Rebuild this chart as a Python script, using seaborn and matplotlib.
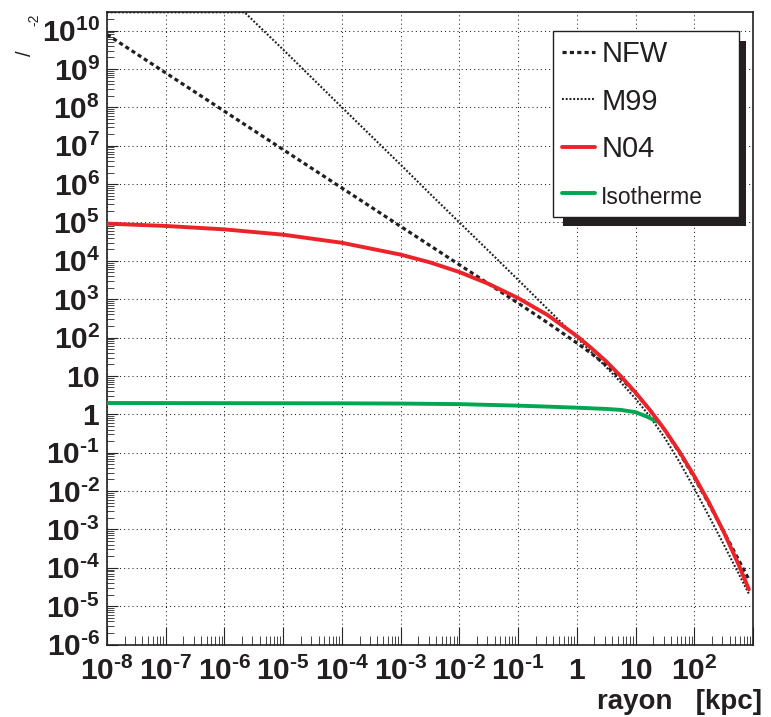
import numpy as np
import pandas as pd
import seaborn as sns
import matplotlib.pyplot as plt
from matplotlib.patches import Rectangle
from matplotlib.transforms import IdentityTransform
from matplotlib.ticker import LogLocator, NullFormatter

# radius in kpc (x axis) and rho/rho_-2
r_main = [1e-8, 1e-7, 1e-6, 1e-5, 1e-4, 1e-3, 3.16e-3, 1e-2, 3.16e-2, 0.1, 0.316, 1,
          1.78, 3.16, 5.62, 10, 17.8, 31.6, 56.2, 100, 178, 316, 562, 850]
nfw = [7.9e9, 7.9e8, 7.9e7, 7.9e6, 7.9e5, 7.9e4, 2.5e4, 7.9e3, 2.5e3, 790, 245, 72.4,
       38, 19.0, 8.7, 3.55, 1.26, 0.38, 0.098, 0.0224, 4.6e-3, 8.9e-4, 1.66e-4, 5.0e-5]
n04 = [9.3e4, 8.1e4, 6.6e4, 4.8e4, 2.95e4, 1.45e4, 9.1e3, 5.1e3, 2.5e3, 1.07e3, 389, 110,
       52.5, 24, 9.8, 3.7, 1.26, 0.39, 0.105, 0.0245, 5.0e-3, 8.7e-4, 1.26e-4, 2.75e-5]

# M99 sits on the top edge of the frame until ~2e-6 kpc
r_m99 = [1e-8, 2.2e-6, 1e-5, 1e-4, 1e-3, 3.16e-3, 1e-2, 3.16e-2, 0.1, 0.316, 1, 1.78,
         3.16, 5.62, 10, 17.8, 31.6, 56.2, 100, 178, 316, 562, 850]
m99 = [3e10, 3e10, 3.2e9, 1.0e8, 3.2e6, 5.6e5, 1.0e5, 1.8e4, 3.2e3, 559, 99, 41.2,
       17, 6.8, 2.54, 0.85, 0.24, 0.0565, 0.0117, 2.2e-3, 4.1e-4, 7.3e-5, 2.1e-5]

r_iso = [1e-8, 1e-6, 1e-4, 1e-3, 1e-2, 0.1, 0.316, 1, 3.16, 5.62, 10, 15.8, 22.9]
iso = [1.97, 1.95, 1.93, 1.905, 1.84, 1.68, 1.585, 1.485, 1.38, 1.30, 1.135, 0.865, 0.645]

HY = '\u2010'  # short hyphen, as in the original exponents
x_ticks = [1e-8, 1e-7, 1e-6, 1e-5, 1e-4, 1e-3, 1e-2, 1e-1, 1, 10, 100, 1000]
x_labels = ['10^{-8}', '10^{-7}', '10^{-6}', '10^{-5}', '10^{-4}', '10^{-3}',
            '10^{-2}', '10^{-1}', '1', '10', '10^{2}', '']
y_ticks = [10.0 ** k for k in range(-6, 11)]
y_labels = ['10^{-6}', '10^{-5}', '10^{-4}', '10^{-3}', '10^{-2}', '10^{-1}', '1', '10',
            '10^{2}', '10^{3}', '10^{4}', '10^{5}', '10^{6}', '10^{7}', '10^{8}',
            '10^{9}', '10^{10}']


def as_math(s):
    if not s:
        return ''
    return '$\\mathrm{' + s.replace('-', HY) + '}$'


sns.set_style('ticks')
plt.rcParams['font.family'] = ['Liberation Sans', 'DejaVu Sans']
plt.rcParams['mathtext.fontset'] = 'custom'
plt.rcParams['mathtext.rm'] = 'Liberation Sans:bold'
plt.rcParams['mathtext.it'] = 'Liberation Sans:bold'
plt.rcParams['mathtext.bf'] = 'Liberation Sans:bold'

fig = plt.figure(figsize=(7.71, 7.17), dpi=100)
ax = fig.add_axes([107 / 771, 1 - 644.5 / 717, 646 / 771, 632.2 / 717])
ax.set_xscale('log')
ax.set_yscale('log')

ink = '#231f20'
red = '#ec2329'
green = '#00a651'

sns.lineplot(x=r_main, y=nfw, ax=ax, color=ink, lw=2.3, linestyle=(0, (1.3, 1.0)),
             estimator=None, sort=False, label='NFW', zorder=3)
sns.lineplot(x=r_m99, y=m99, ax=ax, color=ink, lw=1.5, linestyle=(0, (0.9, 0.9)),
             estimator=None, sort=False, label='M99', zorder=3)
sns.lineplot(x=r_main, y=n04, ax=ax, color=red, lw=2.8, estimator=None, sort=False,
             label='N04', zorder=5)
sns.lineplot(x=r_iso, y=iso, ax=ax, color=green, lw=2.8, estimator=None, sort=False,
             label='Isotherme', zorder=4)

ax.set_xlim(1e-8, 1e3)
ax.set_ylim(1e-6, 3e10)

ax.set_xticks(x_ticks, [as_math(s) for s in x_labels])
ax.set_yticks(y_ticks, [as_math(s) for s in y_labels])
ax.xaxis.set_minor_locator(LogLocator(base=10, subs=np.arange(2, 10), numticks=100))
ax.yaxis.set_minor_locator(LogLocator(base=10, subs=np.arange(2, 10), numticks=100))
ax.xaxis.set_minor_formatter(NullFormatter())
ax.yaxis.set_minor_formatter(NullFormatter())

ax.tick_params(which='both', direction='in', top=False, right=False, labelsize=21.6,
               labelcolor=ink)
ax.tick_params(axis='x', which='major', length=13, width=0.8, pad=9)
ax.tick_params(axis='x', which='minor', length=6.5, width=0.7, color='#444444')
ax.tick_params(axis='y', which='major', length=8, width=0.8, pad=5)
ax.tick_params(axis='y', which='minor', length=5, width=0.7, color='#444444')

ax.grid(which='major', color=ink, linestyle=(0, (1, 3)), linewidth=0.75)
ax.set_axisbelow(True)
for sp in ax.spines.values():
    sp.set_color(ink)
    sp.set_linewidth(1.2)
ax.set_xlabel('')
ax.set_ylabel('')

top = 1 - 31 / 717
leg = ax.legend(loc='upper left', bbox_to_anchor=(553 / 771, top - 0.4, 186 / 771, 0.4),
                bbox_transform=fig.transFigure, mode='expand', borderaxespad=0,
                fontsize=21, frameon=True, fancybox=False, framealpha=1,
                edgecolor=ink, handlelength=1.15, handletextpad=0.2,
                borderpad=0.3, labelspacing=0.68)
leg.get_frame().set_linewidth(1.0)
leg.set_zorder(10)
for t in leg.get_texts():
    t.set_color(ink)
leg.get_texts()[3].set_fontsize(16.5)

fig.text(762 / 771, 1 - 709 / 717, 'rayon   [kpc]', ha='right', va='baseline',
         fontsize=20, fontweight='bold', color=ink)
fig.text(25 / 771, 1 - 53 / 717, '/', rotation=90, ha='center', va='center',
         fontsize=14.5, color=ink)
fig.text(34 / 771, 1 - 20 / 717, '-2', rotation=90, ha='center', va='center',
         fontsize=10, color=ink)

# drop shadow behind the legend box, like the original
fig.canvas.draw()
bb = leg.get_window_extent()
shadow = Rectangle((bb.x0 + 10, bb.y0 - 9), bb.width - 3, bb.height - 1,
                   transform=IdentityTransform(), facecolor=ink, edgecolor='none',
                   zorder=9.5, clip_on=False)
ax.add_artist(shadow)

fig.savefig('out.png', dpi=100)
